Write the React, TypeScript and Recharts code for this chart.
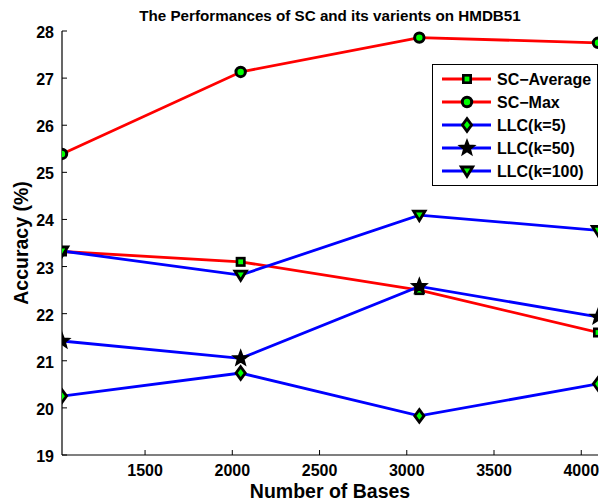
import React from 'react';
import { LineChart, Line, XAxis, YAxis, Legend, Label, Customized } from 'recharts';

// Number of bases (dictionary size) on the x axis
const BASES = [1024, 2048, 3072, 4096];

// Accuracy (%) for each method
const SC_AVERAGE = [23.32, 23.1, 22.5, 21.6];
const SC_MAX = [25.39, 27.13, 27.86, 27.75];
const LLC_K5 = [20.25, 20.74, 19.83, 20.51];
const LLC_K50 = [21.42, 21.05, 22.58, 21.93];
const LLC_K100 = [23.33, 22.82, 24.09, 23.77];

const X_TICKS = [1500, 2000, 2500, 3000, 3500, 4000];
const Y_TICKS = [19, 20, 21, 22, 23, 24, 25, 26, 27, 28];

const TITLE = 'The Performances of SC and its varients on HMDB51';
const X_LABEL = 'Number of Bases';
const Y_LABEL = 'Accuracy (%)';

type Shape = 'square' | 'circle' | 'diamond' | 'star' | 'triangle';

interface SeriesDef {
  key: string;
  name: string;
  color: string;
  shape: Shape;
  values: number[];
}

const SERIES: SeriesDef[] = [
  { key: 'scAverage', name: 'SC\u2212Average', color: '#ff0000', shape: 'square', values: SC_AVERAGE },
  { key: 'scMax', name: 'SC\u2212Max', color: '#ff0000', shape: 'circle', values: SC_MAX },
  { key: 'llc5', name: 'LLC(k=5)', color: '#0000ff', shape: 'diamond', values: LLC_K5 },
  { key: 'llc50', name: 'LLC(k=50)', color: '#0000ff', shape: 'star', values: LLC_K50 },
  { key: 'llc100', name: 'LLC(k=100)', color: '#0000ff', shape: 'triangle', values: LLC_K100 },
];

const data = BASES.map((b, i) => {
  const row: Record<string, number> = { bases: b };
  SERIES.forEach((s) => {
    row[s.key] = s.values[i];
  });
  return row;
});

const FONT = '"Liberation Sans", Arial, Helvetica, sans-serif';
const GREEN = '#00ff00';
const LINE_W = 2.8;

function starPoints(cx: number, cy: number, R: number, r: number) {
  const pts: string[] = [];
  for (let k = 0; k < 10; k++) {
    const ang = (-90 + k * 36) * (Math.PI / 180);
    const rad = k % 2 === 0 ? R : r;
    pts.push(`${cx + rad * Math.cos(ang)},${cy + rad * Math.sin(ang)}`);
  }
  return pts.join(' ');
}

function Marker({ shape, cx, cy }: { shape: Shape; cx: number; cy: number }) {
  if (cx == null || cy == null) return null;
  switch (shape) {
    case 'square':
      return <rect x={cx - 3.7} y={cy - 3.7} width={7.4} height={7.4} fill={GREEN} stroke="#000" strokeWidth={2.6} />;
    case 'circle':
      return <circle cx={cx} cy={cy} r={4.7} fill={GREEN} stroke="#000" strokeWidth={3} />;
    case 'diamond':
      return (
        <polygon
          points={`${cx},${cy - 6.3} ${cx + 4.6},${cy} ${cx},${cy + 6.3} ${cx - 4.6},${cy}`}
          fill={GREEN}
          stroke="#000"
          strokeWidth={2.8}
          strokeLinejoin="miter"
        />
      );
    case 'star':
      return <polygon points={starPoints(cx, cy, 7.8, 3.3)} fill="#000" stroke="#000" strokeWidth={1.6} />;
    case 'triangle':
      return (
        <polygon
          points={`${cx - 5.7},${cy - 4} ${cx + 5.7},${cy - 4} ${cx},${cy + 5.3}`}
          fill={GREEN}
          stroke="#000"
          strokeWidth={2.8}
          strokeLinejoin="miter"
        />
      );
    default:
      return null;
  }
}

const tickText = { fontFamily: FONT, fontWeight: 700, fontSize: 16, fill: '#000' };

function BottomTick(props: any) {
  const { x, y, payload } = props;
  return (
    <g>
      <line x1={x} y1={y} x2={x} y2={y - 5} stroke="#000" strokeWidth={1} />
      <text x={x} y={y + 21} textAnchor="middle" style={tickText}>
        {payload.value}
      </text>
    </g>
  );
}

function TopTick(props: any) {
  const { x, y } = props;
  return <line x1={x} y1={y} x2={x} y2={y + 5} stroke="#000" strokeWidth={1} />;
}

function LeftTick(props: any) {
  const { x, y, payload } = props;
  return (
    <g>
      <line x1={x} y1={y} x2={x + 5} y2={y} stroke="#000" strokeWidth={1} />
      <text x={x - 8} y={y + 7} textAnchor="end" style={tickText}>
        {payload.value}
      </text>
    </g>
  );
}

function RightTick(props: any) {
  const { x, y } = props;
  return <line x1={x} y1={y} x2={x - 5} y2={y} stroke="#000" strokeWidth={1} />;
}

function LegendBox() {
  const rowH = 23;
  const first = 15;
  return (
    <div
      style={{
        width: 166,
        height: 122,
        boxSizing: 'border-box',
        border: '1px solid #000',
        background: '#fff',
      }}
    >
      <svg width={164} height={120} style={{ display: 'block' }}>
        {SERIES.map((s, i) => {
          const cy = first + i * rowH - 1;
          return (
            <g key={s.key}>
              <line x1={9} y1={cy} x2={58} y2={cy} stroke={s.color} strokeWidth={LINE_W} />
              <Marker shape={s.shape} cx={34} cy={cy} />
              <text x={64} y={cy + 6} style={{ fontFamily: FONT, fontWeight: 700, fontSize: 16, fill: '#000' }}>
                {s.name}
              </text>
            </g>
          );
        })}
      </svg>
    </div>
  );
}

function Title() {
  return (
    <text
      x={330}
      y={21}
      textAnchor="middle"
      style={{ fontFamily: FONT, fontWeight: 700, fontSize: 15.2, fill: '#000' }}
    >
      {TITLE}
    </text>
  );
}

export default function App() {
  return (
    <div style={{ position: 'absolute', left: 0, top: 0, width: 599, height: 501, background: '#fff' }}>
      <LineChart width={599} height={501} data={data} margin={{ top: 31, right: 1, bottom: 0, left: 0 }}>
        <XAxis
          dataKey="bases"
          type="number"
          domain={[1024, 4096]}
          ticks={X_TICKS}
          allowDataOverflow
          height={46}
          tickLine={false}
          tickSize={0}
          tickMargin={0}
          axisLine={{ stroke: '#000', strokeWidth: 1.2 }}
          tick={<BottomTick />}
          interval={0}
        >
          <Label
            content={(p: any) => {
              const vb = p.viewBox;
              return (
                <text
                  x={vb.x + vb.width / 2}
                  y={vb.y + 42.5}
                  textAnchor="middle"
                  style={{ fontFamily: FONT, fontWeight: 700, fontSize: 19.5, fill: '#000' }}
                >
                  {X_LABEL}
                </text>
              );
            }}
          />
        </XAxis>
        <XAxis
          xAxisId="top"
          orientation="top"
          dataKey="bases"
          type="number"
          domain={[1024, 4096]}
          ticks={X_TICKS}
          allowDataOverflow
          height={0}
          tickLine={false}
          tickSize={0}
          tickMargin={0}
          axisLine={{ stroke: '#000', strokeWidth: 1.2 }}
          tick={<TopTick />}
          interval={0}
        />
        <YAxis
          type="number"
          domain={[19, 28]}
          ticks={Y_TICKS}
          allowDataOverflow
          width={62}
          tickLine={false}
          tickSize={0}
          tickMargin={0}
          axisLine={{ stroke: '#000', strokeWidth: 1.2 }}
          tick={<LeftTick />}
          interval={0}
        >
          <Label
            content={(p: any) => {
              const vb = p.viewBox;
              const cx = 28;
              const cy = vb.y + vb.height / 2;
              return (
                <text
                  x={cx}
                  y={cy}
                  transform={`rotate(-90 ${cx} ${cy})`}
                  textAnchor="middle"
                  style={{ fontFamily: FONT, fontWeight: 700, fontSize: 19.5, fill: '#000' }}
                >
                  {Y_LABEL}
                </text>
              );
            }}
          />
        </YAxis>
        <YAxis
          yAxisId="right"
          orientation="right"
          type="number"
          domain={[19, 28]}
          ticks={Y_TICKS}
          allowDataOverflow
          width={0}
          tickLine={false}
          tickSize={0}
          tickMargin={0}
          axisLine={{ stroke: '#000', strokeWidth: 1.2 }}
          tick={<RightTick />}
          interval={0}
        />
        {SERIES.map((s) => (
          <Line
            key={s.key}
            dataKey={s.key}
            name={s.name}
            stroke={s.color}
            strokeWidth={LINE_W}
            isAnimationActive={false}
            activeDot={false}
            dot={(p: any) => <Marker key={`${s.key}-${p.index}`} shape={s.shape} cx={p.cx} cy={p.cy} />}
          />
        ))}
        <Legend
          layout="horizontal"
          verticalAlign="middle"
          align="center"
          content={() => <LegendBox />}
          wrapperStyle={{ position: 'absolute', left: 432, top: 64, width: 166, height: 122 }}
        />
        <Customized component={() => <Title />} />
      </LineChart>
    </div>
  );
}
